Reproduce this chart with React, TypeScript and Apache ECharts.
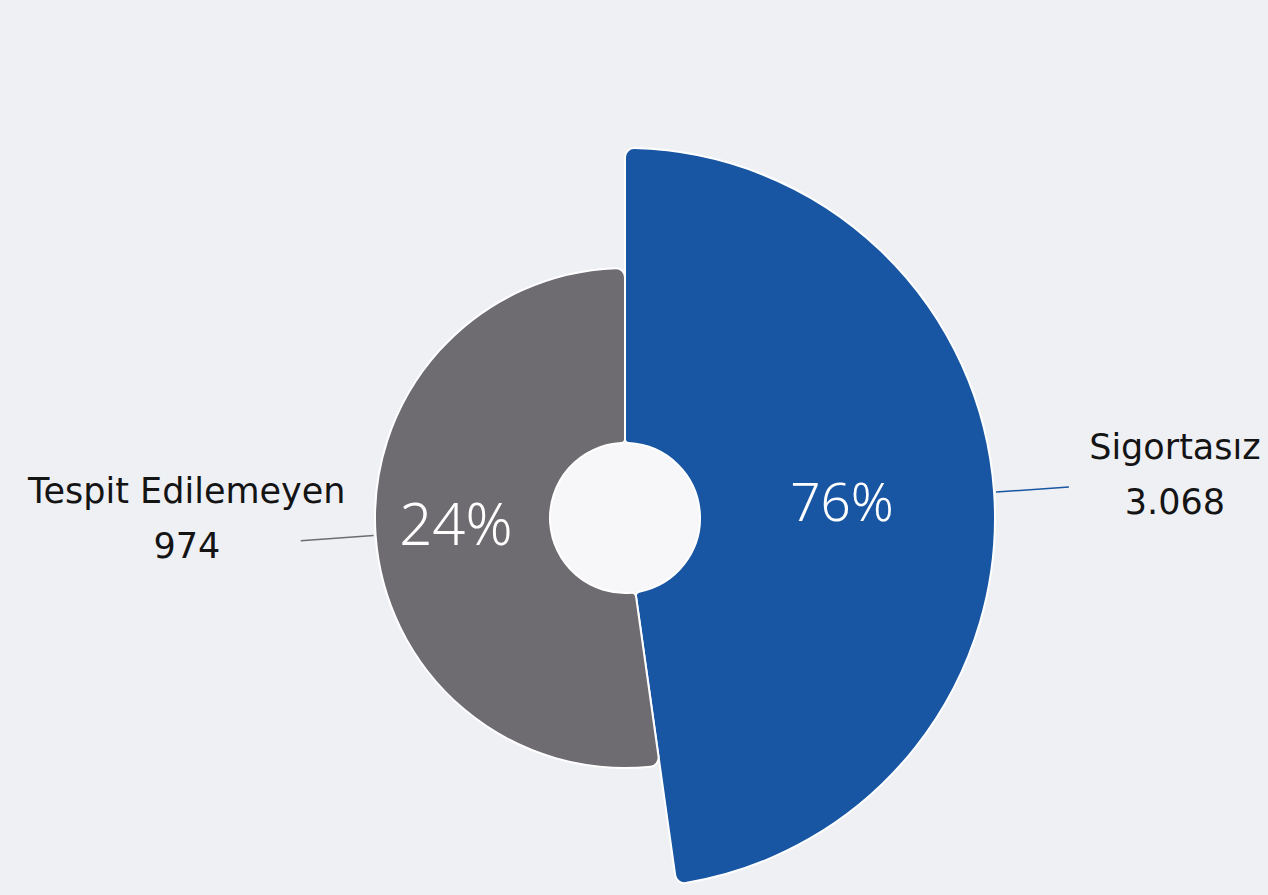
import React, { useEffect, useRef } from "react";
import * as echarts from "echarts";

const categories = ["Sigortasız", "Tespit Edilemeyen"];
const values = [3068, 974];
const sliceColors = ["#1856a3", "#6e6c71"];

const total = values.reduce((a, b) => a + b, 0);
const pct = (v: number) => Math.round((v / total) * 100) + "%";
const fmtNum = (v: number) => String(v).replace(/\B(?=(\d{3})+(?!\d))/g, ".");

const LABEL_FONT = "'DejaVu Sans', 'Noto Sans', sans-serif";
const PCT_FONT = "'Noto Sans', 'Open Sans', sans-serif";
const CX = 625;
const CY = 518;
const R0 = 75;

export default function App() {
  const ref = useRef<HTMLDivElement>(null);
  useEffect(() => {
    if (!ref.current) return;
    const chart = echarts.init(ref.current, undefined, { renderer: "svg" });

    const base = {
      type: "pie" as const,
      center: [CX, CY],
      silent: true,
      avoidLabelOverlap: false,
      emphasis: { disabled: true },
    };

    const sliceSeries = (i: number, outerR: number, start: number, end: number, fontSize: number, dx: number, dy: number) => ({
      ...base,
      radius: [R0, outerR],
      startAngle: start,
      endAngle: end,
      data: [{ name: categories[i], value: values[i] }],
      itemStyle: { color: sliceColors[i], borderColor: "#ffffff", borderWidth: 2, borderRadius: [4, 9] },
      label: {
        show: true,
        position: "inside",
        formatter: (p: any) => pct(p.value),
        color: "#ffffff",
        fontSize,
        fontWeight: 300,
        fontFamily: PCT_FONT,
      },
      labelLine: { show: false },
      labelLayout: { dx, dy },
    });

    const labelSeries = (i: number, outerR: number, start: number, end: number, dx: number, dy: number) => ({
      ...base,
      radius: [R0, outerR],
      startAngle: start,
      endAngle: end,
      z: 5,
      data: [{ name: categories[i], value: values[i] }],
      itemStyle: { color: "rgba(0,0,0,0)", borderWidth: 0 },
      label: {
        show: true,
        position: "outside",
        formatter: (p: any) => p.name + "\n" + fmtNum(p.value),
        color: "#141414",
        fontSize: 35,
        lineHeight: 55,
        fontFamily: LABEL_FONT,
      },
      labelLine: {
        show: true,
        length: 73,
        length2: 0,
        smooth: false,
        lineStyle: { color: sliceColors[i], width: 1.5 },
      },
      labelLayout: (params: any) => ({
        align: "center",
        dx,
        dy,
        labelLinePoints: params.labelLinePoints,
      }),
    });

    chart.setOption({
      animation: false,
      backgroundColor: "#eff0f4",
      graphic: [
        {
          type: "circle",
          z: -1,
          shape: { cx: CX, cy: CY, r: R0 },
          style: { fill: "#f7f7f9" },
          silent: true,
        },
      ],
      series: [
        sliceSeries(0, 370, 90, -82, 53, -8, -2),
        sliceSeries(1, 250, -82, -270, 58, -4, -7),
        labelSeries(0, 372, 90, -82, 101, -12),
        labelSeries(1, 252, -82, -270, -109, -22),
      ],
    });
    return () => chart.dispose();
  }, []);
  return (
    <div
      ref={ref}
      style={{ position: "absolute", left: 0, top: 0, width: "1268px", height: "895px" }}
    />
  );
}
